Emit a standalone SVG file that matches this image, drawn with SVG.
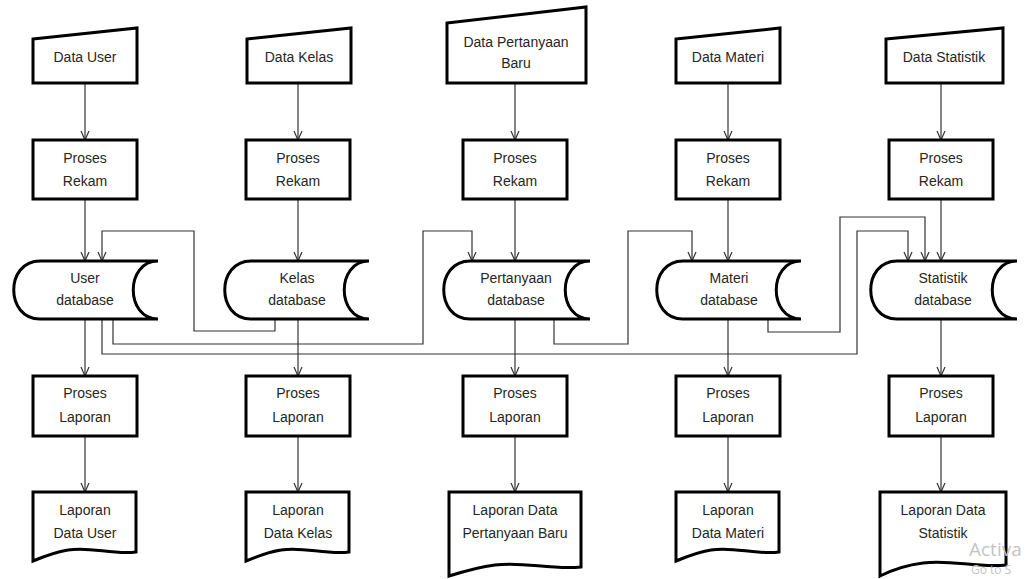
<svg xmlns="http://www.w3.org/2000/svg" width="1025" height="579" viewBox="0 0 1025 579">
<defs>
<marker id="ah" viewBox="0 0 10 10" refX="10" refY="5" markerWidth="10" markerHeight="10" markerUnits="userSpaceOnUse" orient="auto">
<path d="M1,1 L10,5 L1,9" fill="none" stroke="#333" stroke-width="1.2"/>
</marker>
</defs>
<style>
.sh{fill:#fff;stroke:#000;stroke-width:3;stroke-linejoin:miter}
.t{font-family:"Liberation Sans",Arial,sans-serif;font-size:14px;fill:#262626;text-anchor:middle}
.c{fill:none;stroke:#333;stroke-width:1.2}
.w{font-family:"Open Sans","Liberation Sans",sans-serif;fill:#c4c4c4}
</style>
<rect width="1025" height="579" fill="#fff"/>

<g id="connectors">
<path class="c" d="M85,83 V140" marker-end="url(#ah)"/>
<path class="c" d="M298,83 V140" marker-end="url(#ah)"/>
<path class="c" d="M515,83 V140" marker-end="url(#ah)"/>
<path class="c" d="M728,83 V140" marker-end="url(#ah)"/>
<path class="c" d="M941,83 V140" marker-end="url(#ah)"/>
<path class="c" d="M85,199 V261" marker-end="url(#ah)"/>
<path class="c" d="M298,199 V261" marker-end="url(#ah)"/>
<path class="c" d="M515,199 V261" marker-end="url(#ah)"/>
<path class="c" d="M728,199 V261" marker-end="url(#ah)"/>
<path class="c" d="M941,199 V261" marker-end="url(#ah)"/>
<path class="c" d="M85,319 V376" marker-end="url(#ah)"/>
<path class="c" d="M298,319 V376" marker-end="url(#ah)"/>
<path class="c" d="M515,319 V376" marker-end="url(#ah)"/>
<path class="c" d="M728,319 V376" marker-end="url(#ah)"/>
<path class="c" d="M941,319 V376" marker-end="url(#ah)"/>
<path class="c" d="M85,436 V492" marker-end="url(#ah)"/>
<path class="c" d="M298,436 V492" marker-end="url(#ah)"/>
<path class="c" d="M515,436 V492" marker-end="url(#ah)"/>
<path class="c" d="M728,436 V492" marker-end="url(#ah)"/>
<path class="c" d="M941,436 V492" marker-end="url(#ah)"/>
<path class="c" d="M275,319 V331 H194 V231 H102 V261" marker-end="url(#ah)"/>
<path class="c" d="M113,319 V344 H423 V231 H472 V261" marker-end="url(#ah)"/>
<path class="c" d="M102,319 V354 H857 V231 H908 V261" marker-end="url(#ah)"/>
<path class="c" d="M554,319 V344 H628 V231 H692 V261" marker-end="url(#ah)"/>
<path class="c" d="M768,319 V332 H840 V217 H925 V261" marker-end="url(#ah)"/>
</g>

<g id="in-user"><path class="sh" d="M33,39 L137,28 V83 H33 Z"/><text class="t" x="85" y="62">Data User</text></g>
<g id="in-kelas"><path class="sh" d="M247,39 L351,28 V83 H247 Z"/><text class="t" x="299" y="62">Data Kelas</text></g>
<g id="in-pertanyaan"><path class="sh" d="M447,23 L586,7 V83 H447 Z"/><text class="t" x="516" y="47">Data Pertanyaan</text><text class="t" x="516" y="68">Baru</text></g>
<g id="in-materi"><path class="sh" d="M676,39 L780,28 V83 H676 Z"/><text class="t" x="728" y="62">Data Materi</text></g>
<g id="in-statistik"><path class="sh" d="M886,39 L1003,28 V83 H886 Z"/><text class="t" x="944" y="62">Data Statistik</text></g>

<g id="rekam-1"><rect class="sh" x="33" y="140" width="104" height="59"/><text class="t" x="85" y="163">Proses</text><text class="t" x="85" y="186">Rekam</text></g>
<g id="rekam-2"><rect class="sh" x="246" y="140" width="104" height="59"/><text class="t" x="298" y="163">Proses</text><text class="t" x="298" y="186">Rekam</text></g>
<g id="rekam-3"><rect class="sh" x="463" y="140" width="104" height="59"/><text class="t" x="515" y="163">Proses</text><text class="t" x="515" y="186">Rekam</text></g>
<g id="rekam-4"><rect class="sh" x="676" y="140" width="104" height="59"/><text class="t" x="728" y="163">Proses</text><text class="t" x="728" y="186">Rekam</text></g>
<g id="rekam-5"><rect class="sh" x="889" y="140" width="104" height="59"/><text class="t" x="941" y="163">Proses</text><text class="t" x="941" y="186">Rekam</text></g>

<g id="db-user"><path class="sh" d="M158,261 H40 C5,261 5,319 40,319 H158 C125,319 125,261 158,261 Z"/><text class="t" x="85" y="283">User</text><text class="t" x="85" y="305">database</text></g>
<g id="db-kelas"><path class="sh" d="M369,261 H251 C216,261 216,319 251,319 H369 C336,319 336,261 369,261 Z"/><text class="t" x="297" y="283">Kelas</text><text class="t" x="297" y="305">database</text></g>
<g id="db-pertanyaan"><path class="sh" d="M590,261 H470 C435,261 435,319 470,319 H590 C557,319 557,261 590,261 Z"/><text class="t" x="516" y="283">Pertanyaan</text><text class="t" x="516" y="305">database</text></g>
<g id="db-materi"><path class="sh" d="M801,261 H683 C648,261 648,319 683,319 H801 C768,319 768,261 801,261 Z"/><text class="t" x="729" y="283">Materi</text><text class="t" x="729" y="305">database</text></g>
<g id="db-statistik"><path class="sh" d="M1017,261 H897 C862,261 862,319 897,319 H1017 C984,319 984,261 1017,261 Z"/><text class="t" x="943" y="283">Statistik</text><text class="t" x="943" y="305">database</text></g>

<g id="laporan-1"><rect class="sh" x="33" y="376" width="104" height="60"/><text class="t" x="85" y="398">Proses</text><text class="t" x="85" y="422">Laporan</text></g>
<g id="laporan-2"><rect class="sh" x="246" y="376" width="104" height="60"/><text class="t" x="298" y="398">Proses</text><text class="t" x="298" y="422">Laporan</text></g>
<g id="laporan-3"><rect class="sh" x="463" y="376" width="104" height="60"/><text class="t" x="515" y="398">Proses</text><text class="t" x="515" y="422">Laporan</text></g>
<g id="laporan-4"><rect class="sh" x="676" y="376" width="104" height="60"/><text class="t" x="728" y="398">Proses</text><text class="t" x="728" y="422">Laporan</text></g>
<g id="laporan-5"><rect class="sh" x="889" y="376" width="104" height="60"/><text class="t" x="941" y="398">Proses</text><text class="t" x="941" y="422">Laporan</text></g>

<g id="doc-user"><path class="sh" d="M33,492 H136 V552 C112,555 90,546 68,550 C55,552 45,556 33,561 Z"/><text class="t" x="85" y="515">Laporan</text><text class="t" x="85" y="538">Data User</text></g>
<g id="doc-kelas"><path class="sh" d="M246,492 H349 V552 C325,555 303,546 281,550 C268,552 258,556 246,561 Z"/><text class="t" x="298" y="515">Laporan</text><text class="t" x="298" y="538">Data Kelas</text></g>
<g id="doc-pertanyaan"><path class="sh" d="M449,492 H581 V567 C550,570 523,561 495,565 C479,567 465,571 449,576 Z"/><text class="t" x="515" y="515">Laporan Data</text><text class="t" x="515" y="538">Pertanyaan Baru</text></g>
<g id="doc-materi"><path class="sh" d="M676,492 H779 V552 C755,555 733,546 711,550 C698,552 688,556 676,561 Z"/><text class="t" x="728" y="515">Laporan</text><text class="t" x="728" y="538">Data Materi</text></g>
<g id="doc-statistik"><path class="sh" d="M880,492 H1006 V565 C976,568 950,559 923,563 C907,565 894,569 880,576 Z"/><text class="t" x="943" y="515">Laporan Data</text><text class="t" x="943" y="538">Statistik</text></g>

<text class="w" x="969" y="556" font-size="19">Activa</text>
<text class="w" x="971" y="574" font-size="12">Go to S</text>
</svg>
